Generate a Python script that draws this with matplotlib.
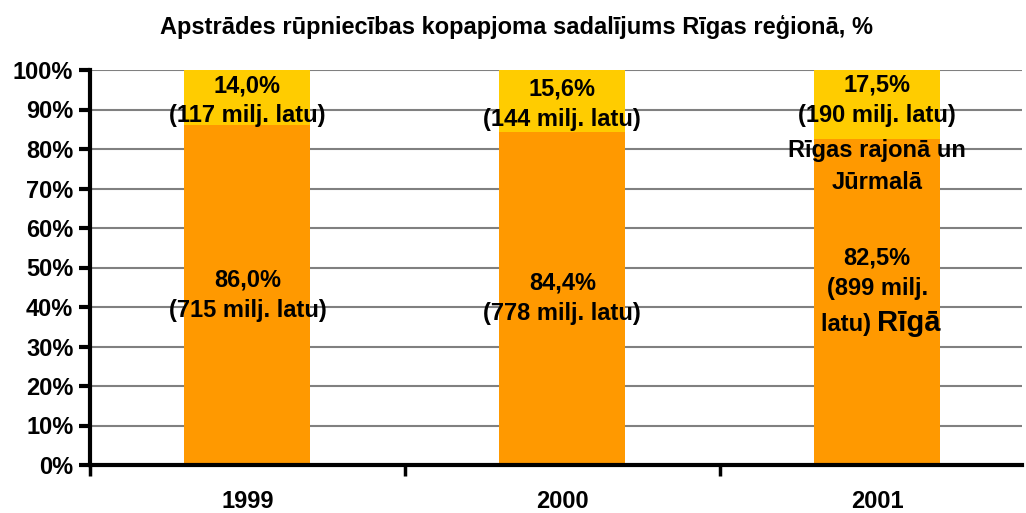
import matplotlib
matplotlib.use("Agg")
import matplotlib.pyplot as plt
from matplotlib.ticker import FixedLocator

plt.rcParams['font.family'] = ['Liberation Sans', 'DejaVu Sans']
plt.rcParams['font.weight'] = 'bold'

years = ['1999', '2000', '2001']
riga_pct = [86.0, 84.4, 82.5]
region_pct = [14.0, 15.6, 17.5]
riga_mln = [715, 778, 899]
region_mln = [117, 144, 190]
yticks = list(range(0, 101, 10))

fig = plt.figure(figsize=(10.26, 5.13), dpi=100)
ax = fig.add_axes([90/1026, 1-465/513, (1022-90)/1026, (465-70)/513])

x = list(range(len(years)))
ax.bar(x, riga_pct, width=0.4, color='#FF9900', zorder=2)
ax.bar(x, region_pct, bottom=riga_pct, width=0.4, color='#FFCC00', zorder=2)

ax.set_xlim(-0.5, 2.46)
ax.set_ylim(0, 100)
ax.set_yticks(yticks)
ax.set_yticklabels([f'{v}%' for v in yticks], fontsize=17, fontweight='bold')
ax.yaxis.grid(True, color='#808080', linewidth=1.5, zorder=0)
ax.set_axisbelow(True)

ax.set_xticks(x)
ax.set_xticklabels(years, fontsize=17, fontweight='bold')
ax.tick_params(axis='x', which='major', length=0, pad=18)
ax.xaxis.set_minor_locator(FixedLocator([-0.5, 0.5, 1.5]))
ax.tick_params(axis='x', which='minor', length=8, width=2.5, direction='out')
ax.tick_params(axis='y', length=8, width=3, direction='out', pad=4)

for s in ['top', 'right']:
    ax.spines[s].set_visible(False)
for s in ['left', 'bottom']:
    ax.spines[s].set_linewidth(3)

fs = 17
ls = 1.4


def pct(v):
    return f'{v:.1f}%'.replace('.', ',')


for i in range(2):
    ax.text(x[i], riga_pct[i] + region_pct[i] / 2 - 0.8,
            pct(region_pct[i]) + f'\n({region_mln[i]} milj. latu)',
            ha='center', va='center', fontsize=fs, fontweight='bold', linespacing=ls, zorder=3)
    ax.text(x[i], riga_pct[i] / 2,
            pct(riga_pct[i]) + f'\n({riga_mln[i]} milj. latu)',
            ha='center', va='center', fontsize=fs, fontweight='bold', linespacing=ls, zorder=3)

i = 2
ax.text(x[i], 92.3,
        pct(region_pct[i]) + f'\n({region_mln[i]} milj. latu)',
        ha='center', va='center', fontsize=fs, fontweight='bold', linespacing=ls, zorder=3)
ax.text(x[i], 75.6, 'Rīgas rajonā un\nJūrmalā', ha='center', va='center',
        fontsize=fs, fontweight='bold', linespacing=1.5, zorder=3)
ax.text(x[i], 48.6, pct(riga_pct[i]) + f'\n({riga_mln[i]} milj.',
        ha='center', va='center', fontsize=fs, fontweight='bold', linespacing=ls, zorder=3)
ax.text(x[i], 35.6, 'latu) ', ha='right', va='center', fontsize=fs, fontweight='bold', zorder=3)
ax.text(x[i], 36.0, 'Rīgā', ha='left', va='center', fontsize=21, fontweight='bold', zorder=3)

fig.text(516/1026, 1-27/513, 'Apstrādes rūpniecības kopapjoma sadalījums Rīgas reģionā, %',
         ha='center', va='center', fontsize=17, fontweight='bold')

fig.savefig('out.png', dpi=100)
